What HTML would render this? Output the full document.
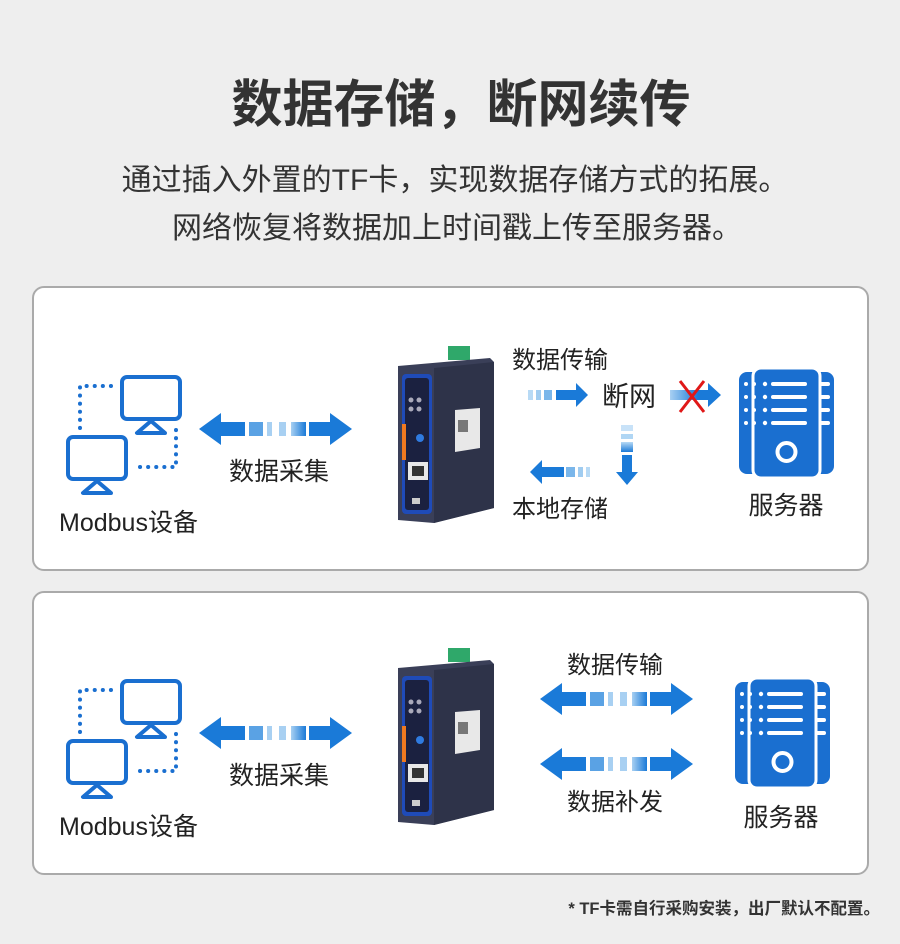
<!DOCTYPE html>
<html><head><meta charset="utf-8"><style>
body{margin:0;width:900px;height:944px;background:#eeeeee;overflow:hidden;font-family:"Liberation Sans","Noto Sans CJK SC",sans-serif;}
</style></head><body>
<svg width="900" height="944" viewBox="0 0 900 944" xmlns="http://www.w3.org/2000/svg" style="display:block">
<defs>
<linearGradient id="fadeR" x1="0" x2="1"><stop offset="0" stop-color="#a8d0f2"/><stop offset="1" stop-color="#1a7ad8"/></linearGradient>
<linearGradient id="fadeD" x1="0" y1="0" x2="0" y2="1"><stop offset="0" stop-color="#b8daf5"/><stop offset="1" stop-color="#1a7ad8"/></linearGradient>
<g id="bi">
 <polygon points="0,16 22,0 22,9 46,9 46,23 22,23 22,32" fill="#1a7ad8"/>
 <rect x="50" y="9" width="14" height="14" fill="#5aa2e4"/>
 <rect x="68" y="9" width="5" height="14" fill="#a8d0f2"/>
 <rect x="80" y="9" width="7" height="14" fill="#a8d0f2"/>
 <rect x="92" y="9" width="15" height="14" fill="url(#fadeR)"/>
 <polygon points="110,9 131,9 131,0 153,16 131,32 131,23 110,23" fill="#1a7ad8"/>
</g>
<g id="mon">
 <rect x="2" y="2" width="58" height="42" rx="5" fill="none" stroke="#1a6fd0" stroke-width="4"/>
 <polygon points="31,46 17,58 45,58" fill="none" stroke="#1a6fd0" stroke-width="4" stroke-linejoin="round"/>
</g>
<g id="pcs">
 <use href="#mon" x="120" y="375"/>
 <use href="#mon" x="66" y="435"/>
 <path d="M80 428 V386 H116" stroke="#1a6fd0" stroke-width="4" stroke-dasharray="0.1 8" stroke-linecap="round" fill="none"/>
 <path d="M176 430 V467 H134" stroke="#1a6fd0" stroke-width="4" stroke-dasharray="0.1 8" stroke-linecap="round" fill="none"/>
</g>
<g id="srv">
 <rect x="0" y="4" width="95" height="102" rx="8" fill="#1a6fd0"/>
 <rect x="14" y="0" width="67" height="110" rx="8" fill="#1a6fd0" stroke="#fff" stroke-width="3"/>
 <g stroke="#fff" stroke-width="4" stroke-linecap="round">
  <line x1="34" y1="16" x2="66" y2="16"/><line x1="34" y1="29" x2="66" y2="29"/><line x1="34" y1="42" x2="66" y2="42"/><line x1="34" y1="55" x2="66" y2="55"/>
  <line x1="82" y1="16" x2="89" y2="16"/><line x1="82" y1="29" x2="89" y2="29"/><line x1="82" y1="42" x2="89" y2="42"/><line x1="82" y1="55" x2="89" y2="55"/>
 </g>
 <g fill="#fff">
  <circle cx="26" cy="16" r="2.2"/><circle cx="26" cy="29" r="2.2"/><circle cx="26" cy="42" r="2.2"/><circle cx="26" cy="55" r="2.2"/>
  <circle cx="7" cy="16" r="2"/><circle cx="7" cy="29" r="2"/><circle cx="7" cy="42" r="2"/><circle cx="7" cy="55" r="2"/>
  <circle cx="15" cy="16" r="2"/><circle cx="15" cy="29" r="2"/><circle cx="15" cy="42" r="2"/><circle cx="15" cy="55" r="2"/>
 </g>
 <circle cx="47.5" cy="84" r="9" fill="none" stroke="#fff" stroke-width="4"/>
</g>
<g id="dev">
 <rect x="50" y="-12" width="22" height="14" fill="#2fa86a"/>
 <polygon points="0,8 92,0 96,4 96,150 36,165 0,162" fill="#3a3f58"/>
 <polygon points="36,10 96,4 96,150 36,165" fill="#2e3349"/>
 <rect x="4" y="16" width="30" height="140" rx="4" fill="#1f4bb8"/>
 <rect x="7" y="20" width="24" height="132" rx="3" fill="#1b2140"/>
 <rect x="4" y="66" width="4" height="36" fill="#f07a20"/>
 <circle cx="13" cy="42" r="2.5" fill="#aab"/><circle cx="21" cy="42" r="2.5" fill="#aab"/>
 <circle cx="13" cy="51" r="2.5" fill="#aab"/><circle cx="21" cy="51" r="2.5" fill="#aab"/>
 <circle cx="22" cy="80" r="4" fill="#2f7be0"/>
 <rect x="10" y="104" width="20" height="18" fill="#e8e8e8"/>
 <rect x="14" y="108" width="12" height="10" fill="#333"/>
 <rect x="14" y="140" width="8" height="6" fill="#ccc"/>
 <polygon points="57,52 82,50 82,90 57,94" fill="#e8e8e8"/>
 <rect x="60" y="62" width="10" height="12" fill="#777"/>
</g>
</defs>

<text x="461" y="122" text-anchor="middle" font-size="51" font-weight="bold" fill="#333" font-family="'Noto Sans CJK SC',sans-serif">数据存储，断网续传</text>
<text x="455" y="190" text-anchor="middle" font-size="30" fill="#333" font-family="'Liberation Sans','Noto Sans CJK SC',sans-serif">通过插入外置的TF卡，实现数据存储方式的拓展。</text>
<text x="457" y="238" text-anchor="middle" font-size="30" fill="#333" font-family="'Noto Sans CJK SC',sans-serif">网络恢复将数据加上时间戳上传至服务器。</text>

<rect x="33" y="287" width="835" height="283" rx="11" fill="#fff" stroke="#aaa" stroke-width="2"/>
<rect x="33" y="592" width="835" height="282" rx="11" fill="#fff" stroke="#aaa" stroke-width="2"/>

<!-- panel 1 -->
<use href="#pcs"/>
<text x="59" y="531" font-size="25" fill="#222" font-family="'Liberation Sans','Noto Sans CJK SC',sans-serif">Modbus设备</text>
<use href="#bi" x="199" y="413"/>
<text x="279" y="480" text-anchor="middle" font-size="25" fill="#222" font-family="'Noto Sans CJK SC',sans-serif">数据采集</text>
<use href="#dev" x="398" y="358"/>
<text x="512" y="368" font-size="24" fill="#222" font-family="'Noto Sans CJK SC',sans-serif">数据传输</text>
<rect x="528" y="390" width="5" height="10" fill="#b8daf5"/><rect x="536" y="390" width="5" height="10" fill="#a0ccf0"/><rect x="544" y="390" width="8" height="10" fill="#7ab6ea"/>
<polygon points="556,390 576,390 576,383 588,395 576,407 576,400 556,400" fill="#1a7ad8"/>
<text x="602" y="406" font-size="27" fill="#222" font-family="'Noto Sans CJK SC',sans-serif">断网</text>
<rect x="670" y="390" width="28" height="10" fill="url(#fadeR)"/>
<polygon points="698,390 708,390 708,383 721,395 708,407 708,400 698,400" fill="#1a7ad8"/>
<path d="M680 381 L704 412 M704 381 L680 412" stroke="#e01818" stroke-width="3"/>
<rect x="621" y="425" width="12" height="6" fill="#c8e2f8"/><rect x="621" y="434" width="12" height="5" fill="#b0d6f4"/><rect x="621" y="442" width="12" height="10" fill="url(#fadeD)"/>
<polygon points="622,455 632,455 632,472 638,472 627,485 616,472 622,472" fill="#1a7ad8"/>
<polygon points="530,472 542,460 542,467 564,467 564,477 542,477 542,484" fill="#1a7ad8"/>
<rect x="566" y="467" width="9" height="10" fill="#7ab6ea"/><rect x="578" y="467" width="5" height="10" fill="#a0ccf0"/><rect x="586" y="467" width="4" height="10" fill="#b8daf5"/>
<text x="512" y="517" font-size="24" fill="#222" font-family="'Noto Sans CJK SC',sans-serif">本地存储</text>
<use href="#srv" x="739" y="368"/>
<text x="786" y="514" text-anchor="middle" font-size="25" fill="#222" font-family="'Noto Sans CJK SC',sans-serif">服务器</text>

<!-- panel 2 -->
<use href="#pcs" y="304"/>
<text x="59" y="835" font-size="25" fill="#222" font-family="'Liberation Sans','Noto Sans CJK SC',sans-serif">Modbus设备</text>
<use href="#bi" x="199" y="717"/>
<text x="279" y="784" text-anchor="middle" font-size="25" fill="#222" font-family="'Noto Sans CJK SC',sans-serif">数据采集</text>
<use href="#dev" x="398" y="660"/>
<text x="615" y="673" text-anchor="middle" font-size="24" fill="#222" font-family="'Noto Sans CJK SC',sans-serif">数据传输</text>
<use href="#bi" x="540" y="683"/>
<use href="#bi" x="540" y="748"/>
<text x="615" y="810" text-anchor="middle" font-size="24" fill="#222" font-family="'Noto Sans CJK SC',sans-serif">数据补发</text>
<use href="#srv" x="735" y="678"/>
<text x="781" y="826" text-anchor="middle" font-size="25" fill="#222" font-family="'Noto Sans CJK SC',sans-serif">服务器</text>

<text x="880" y="914" text-anchor="end" font-size="16.5" font-weight="bold" fill="#333" font-family="'Liberation Sans','Noto Sans CJK SC',sans-serif">*  TF卡需自行采购安装，出厂默认不配置。</text>
</svg>
</body></html>
